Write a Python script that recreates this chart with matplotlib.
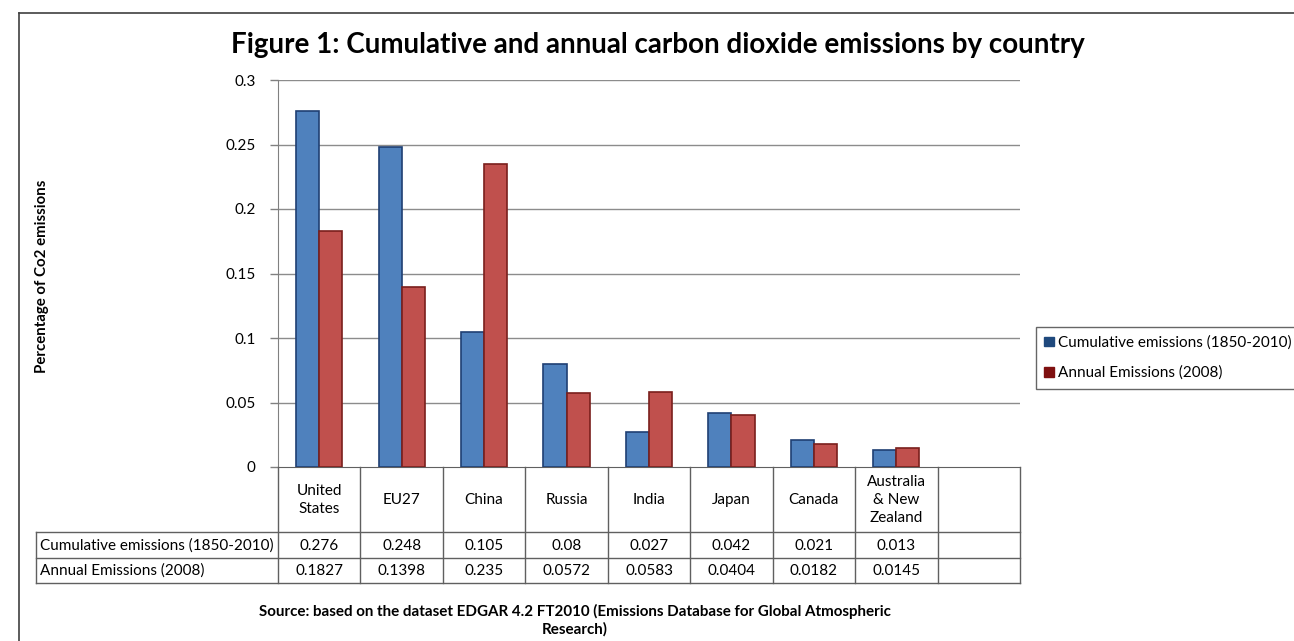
import matplotlib
matplotlib.use("Agg")
import matplotlib.pyplot as plt
import matplotlib.transforms as mtransforms
from matplotlib.lines import Line2D
from matplotlib.patches import Patch

plt.rcParams['font.family'] = ['Lato', 'DejaVu Sans']

# data
countries = ["United\nStates", "EU27", "China", "Russia", "India", "Japan",
             "Canada", "Australia\n& New\nZealand"]
cumulative = [0.276, 0.248, 0.105, 0.08, 0.027, 0.042, 0.021, 0.013]
annual = [0.1827, 0.1398, 0.235, 0.0572, 0.0583, 0.0404, 0.0182, 0.0145]
series_names = ["Cumulative emissions (1850-2010)", "Annual Emissions (2008)"]
yticks = [0, 0.05, 0.1, 0.15, 0.2, 0.25, 0.3]
ytick_labels = ["0", "0.05", "0.1", "0.15", "0.2", "0.25", "0.3"]
n_slots = 9  # excel left one empty slot at the right

W, H = 1294, 641
fig = plt.figure(figsize=(W / 100, H / 100), dpi=100)

def fx(px):
    return px / W

def fy(py):
    return 1 - py / H

ax = fig.add_axes([fx(278), fy(467), fx(1020) - fx(278), fy(80) - fy(467)])

blue, blue_edge = "#4F81BD", "#1F3F73"
red, red_edge = "#C0504D", "#7A1F1C"
bw = 0.28
xs = list(range(len(countries)))
ax.bar([x - bw / 2 for x in xs], cumulative, width=bw, color=blue,
       edgecolor=blue_edge, linewidth=1.2, zorder=3)
ax.bar([x + bw / 2 for x in xs], annual, width=bw, color=red,
       edgecolor=red_edge, linewidth=1.2, zorder=3)

ax.set_xlim(-0.5, n_slots - 0.5)
ax.set_ylim(0, 0.3)
ax.set_yticks(yticks)
ax.set_yticklabels(ytick_labels, fontsize=11)
ax.set_xticks([])
ax.tick_params(axis="y", length=6, width=1, color="#808080", pad=10)
for y in yticks[1:]:
    ax.axhline(y, color="#8C8C8C", linewidth=1, zorder=1)
for s in ["top", "right"]:
    ax.spines[s].set_visible(False)
ax.spines["left"].set_color("#808080")
ax.spines["bottom"].set_color("#606060")

# data table under the axis
tr = mtransforms.blended_transform_factory(ax.transData, fig.transFigure)
line_kw = dict(color="#606060", linewidth=1, clip_on=False)
for i in range(n_slots + 1):
    fig.add_artist(Line2D([i - 0.5, i - 0.5], [fy(467), fy(583)], transform=tr, **line_kw))
for py in [532, 558, 583]:
    fig.add_artist(Line2D([fx(36), fx(1020)], [fy(py), fy(py)], transform=fig.transFigure, **line_kw))
fig.add_artist(Line2D([fx(36), fx(36)], [fy(532), fy(583)], transform=fig.transFigure, **line_kw))

for i, name in enumerate(countries):
    fig.text(i, fy(500), name, transform=tr, ha="center", va="center",
             fontsize=11, linespacing=1.35)
    fig.text(i, fy(546), str(cumulative[i]), transform=tr, ha="center",
             va="center", fontsize=11)
    fig.text(i, fy(571), str(annual[i]), transform=tr, ha="center",
             va="center", fontsize=11)
fig.text(fx(40), fy(546), series_names[0], ha="left", va="center", fontsize=11)
fig.text(fx(40), fy(571), series_names[1], ha="left", va="center", fontsize=11)

# legend box on the right
handles = [Patch(facecolor="#1F497D", edgecolor="#1F497D"),
           Patch(facecolor="#7F1010", edgecolor="#7F1010")]
leg = fig.legend(handles, series_names, loc="upper left",
                 bbox_to_anchor=(fx(1036), fy(327)), fontsize=11,
                 frameon=True, fancybox=False, edgecolor="#404040",
                 handlelength=0.6, handleheight=0.6, handletextpad=0.3,
                 labelspacing=1.05, borderpad=0.55, borderaxespad=0)
leg.get_frame().set_linewidth(1)

fig.text(fx(658), fy(45), "Figure 1: Cumulative and annual carbon dioxide emissions by country",
         ha="center", va="center", fontsize=20, fontweight="bold")
fig.text(fx(42), fy(276), "Percentage of Co2 emissions", rotation=90,
         ha="center", va="center", fontsize=10.8, fontweight="bold")
fig.text(fx(575), fy(620), "Source: based on the dataset EDGAR 4.2 FT2010 (Emissions Database for Global Atmospheric\nResearch)",
         ha="center", va="center", fontsize=10.9, fontweight="bold", linespacing=1.25)

# outer chart border
fig.add_artist(Line2D([fx(19), fx(19)], [fy(13), 0], transform=fig.transFigure,
                      color="#404040", linewidth=1.2))
fig.add_artist(Line2D([fx(19), 1], [fy(13), fy(13)], transform=fig.transFigure,
                      color="#404040", linewidth=1.2))

fig.savefig("out.png", dpi=100, facecolor="white")
